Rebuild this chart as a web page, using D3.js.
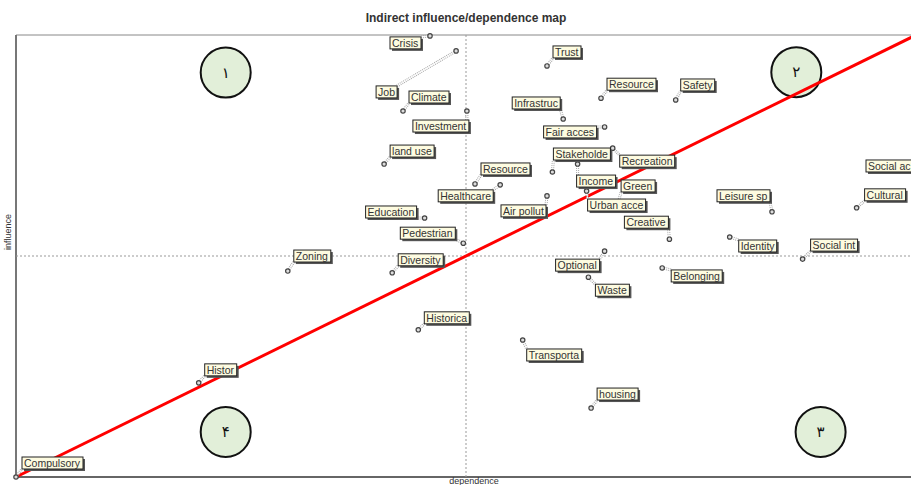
<!DOCTYPE html>
<html>
<head>
<meta charset="utf-8">
<script src="https://cdn.jsdelivr.net/npm/d3@7"></script>
<style>
  body { margin: 0; background: #fff; }
  svg { display: block; }
  text { font-family: "Liberation Sans", Arial, sans-serif; }
</style>
</head>
<body>
<svg id="chart" width="911" height="485"></svg>
<script>
// variables as shown on the map (labels are truncated as in the original)
var names = ["Crisis", "Job", "Climate", "Investment", "land use", "Trust", "Resource", "Safety",
  "Infrastruc", "Fair acces", "Stakeholde", "Recreation", "Resource ", "Healthcare", "Air pollut",
  "Education", "Pedestrian", "Zoning", "Diversity", "Historica", "Histor", "Compulsory",
  "Transporta", "housing", "Optional", "Waste", "Belonging", "Creative", "Leisure sp", "Identity",
  "Social int", "Cultural", "Social ac", "Income", "Green", "Urban acce"];

// dependence (x) and influence (y), 0..100
var dependence = [46.0, 48.9, 43.0, 50.1, 40.9, 59.0, 65.0, 73.3,
  60.8, 65.4, 59.6, 66.3, 51.0, 53.8, 59.0,
  45.4, 49.7, 30.2, 41.8, 44.7, 20.3, 0,
  56.3, 63.9, 65.4, 63.6, 71.8, 72.6, 84.0, 79.3,
  87.4, 93.4, 100, 62.4, 66.9, 63.4];
var influence = [99.8, 96.4, 82.8, 82.8, 70.8, 93.0, 85.7, 85.3,
  81.0, 79.2, 69.0, 74.4, 66.3, 66.1, 63.6,
  58.6, 52.9, 46.6, 46.2, 33.3, 21.3, 0,
  31.0, 15.6, 51.1, 45.2, 47.3, 53.8, 60.0, 54.3,
  49.3, 60.9, 67.2, 70.8, 62.0, 64.7];

// quadrant markers
var quadNames = ["\u0661", "\u0662", "\u0663", "\u06F4"];
var quadX = [23.3, 86.7, 89.4, 23.3];
var quadY = [91.5, 91.6, 10.2, 10.2];

// where each label box sits relative to its point (top-left corner offset, px)
var labelOffset = [[-40, 1], [-80, 35], [6, -20], [-54, 9], [6, -19], [6, -20], [6, -20], [5, -21],
  [-51, -22], [-61, -1], [1, -24], [7, 7], [6, -21], [-62, 5], [-46, 9],
  [-59, -12], [-63, -16], [6, -21], [6, -19], [6, -18], [6, -19], [6, -20],
  [4, 9], [6, -20], [-49, 8], [7, 7], [9, 2], [-45, -23], [-55, -22], [9, 3],
  [8, -20], [8, -19], [-50, -20], [-1, 11], [3, -23], [1, 8]];

var svg = d3.select("#chart");
var margin = {left: 16, top: 35};
var width = 900, height = 442;

var x = d3.scaleLinear().domain([0, 100]).range([margin.left, margin.left + width]);
var y = d3.scaleLinear().domain([0, 100]).range([margin.top + height, margin.top]);

// title
svg.append("text")
  .attr("x", 466).attr("y", 22)
  .attr("text-anchor", "middle")
  .style("font-size", "12px").style("font-weight", "bold").style("fill", "#333")
  .text("Indirect influence/dependence map");

// frame
svg.append("line").attr("x1", x(0)).attr("x2", x(100)).attr("y1", y(100)).attr("y2", y(100))
  .attr("stroke", "#888").attr("stroke-width", 1);
svg.append("line").attr("x1", x(0)).attr("x2", x(0)).attr("y1", y(100)).attr("y2", y(0))
  .attr("stroke", "#777").attr("stroke-width", 2);
svg.append("line").attr("x1", x(0)).attr("x2", x(100)).attr("y1", y(0)).attr("y2", y(0))
  .attr("stroke", "#666").attr("stroke-width", 2);

// centre lines
svg.append("line").attr("x1", x(50)).attr("x2", x(50)).attr("y1", y(100)).attr("y2", y(0))
  .attr("stroke", "#999").attr("stroke-dasharray", "2,2");
svg.append("line").attr("x1", x(0)).attr("x2", x(100)).attr("y1", y(50)).attr("y2", y(50))
  .attr("stroke", "#999").attr("stroke-dasharray", "2,2");

// axis titles
svg.append("text")
  .attr("transform", "translate(11," + 232 + ") rotate(-90)")
  .attr("text-anchor", "middle")
  .style("font-size", "9px").style("fill", "#333")
  .text("influence");
svg.append("text")
  .attr("x", 474).attr("y", 484)
  .attr("text-anchor", "middle")
  .style("font-size", "9px").style("fill", "#333")
  .text("dependence");

// quadrant circles
var quads = svg.append("g").selectAll("g")
  .data(quadNames)
  .enter().append("g")
  .attr("transform", function(d, i) { return "translate(" + x(quadX[i]) + "," + y(quadY[i]) + ")"; });
quads.append("circle").attr("r", 25)
  .attr("fill", "#e2efd9").attr("stroke", "#111").attr("stroke-width", 2);
quads.append("text")
  .attr("text-anchor", "middle").attr("dy", "0.35em")
  .style("font-family", "'DejaVu Sans', sans-serif")
  .style("font-size", "15px").style("fill", "#111")
  .text(function(d) { return d; });

// diagonal
svg.append("line")
  .attr("x1", x(0)).attr("y1", y(0)).attr("x2", x(100)).attr("y2", y(100))
  .attr("stroke", "#ff0000").attr("stroke-width", 3);

// points and labels
var pts = names.map(function(n, i) {
  return {name: n, px: x(dependence[i]), py: y(influence[i]), off: labelOffset[i]};
});

var leaders = svg.append("g");
var markers = svg.append("g");
var labels = svg.append("g");

var lab = labels.selectAll("g")
  .data(pts)
  .enter().append("g")
  .attr("transform", function(d) { return "translate(" + (d.px + d.off[0]) + "," + (d.py + d.off[1]) + ")"; });

lab.each(function(d) {
  var g = d3.select(this);
  var shadow = g.append("rect").attr("x", 2).attr("y", 2).attr("height", 12).attr("fill", "#555");
  var box = g.append("rect").attr("x", 0).attr("y", 0).attr("height", 12)
    .attr("fill", "#fdfbe0").attr("stroke", "#222").attr("stroke-width", 1);
  var t = g.append("text").attr("x", 2).attr("y", 10)
    .style("font-size", "10.5px").style("fill", "#333").text(d.name.trim());
  var w = Math.ceil(t.node().getComputedTextLength()) + 4;
  box.attr("width", w);
  shadow.attr("width", w);
  d.bx = d.px + d.off[0];
  d.by = d.py + d.off[1];
  d.bw = w;
});

pts.forEach(function(d) {
  var cx = Math.max(d.bx, Math.min(d.px, d.bx + d.bw));
  var cy = Math.max(d.by, Math.min(d.py, d.by + 12));
  leaders.append("line")
    .attr("x1", d.px).attr("y1", d.py).attr("x2", cx).attr("y2", cy)
    .attr("stroke", "#aaa").attr("stroke-width", 3).attr("stroke-dasharray", "1,1");
  leaders.append("line")
    .attr("x1", d.px).attr("y1", d.py).attr("x2", cx).attr("y2", cy)
    .attr("stroke", "#fff").attr("stroke-width", 1);
});

markers.selectAll("circle")
  .data(pts)
  .enter().append("circle")
  .attr("cx", function(d) { return d.px; })
  .attr("cy", function(d) { return d.py; })
  .attr("r", 2.2)
  .attr("fill", "#ddd").attr("stroke", "#444").attr("stroke-width", 1.2);
</script>
</body>
</html>
